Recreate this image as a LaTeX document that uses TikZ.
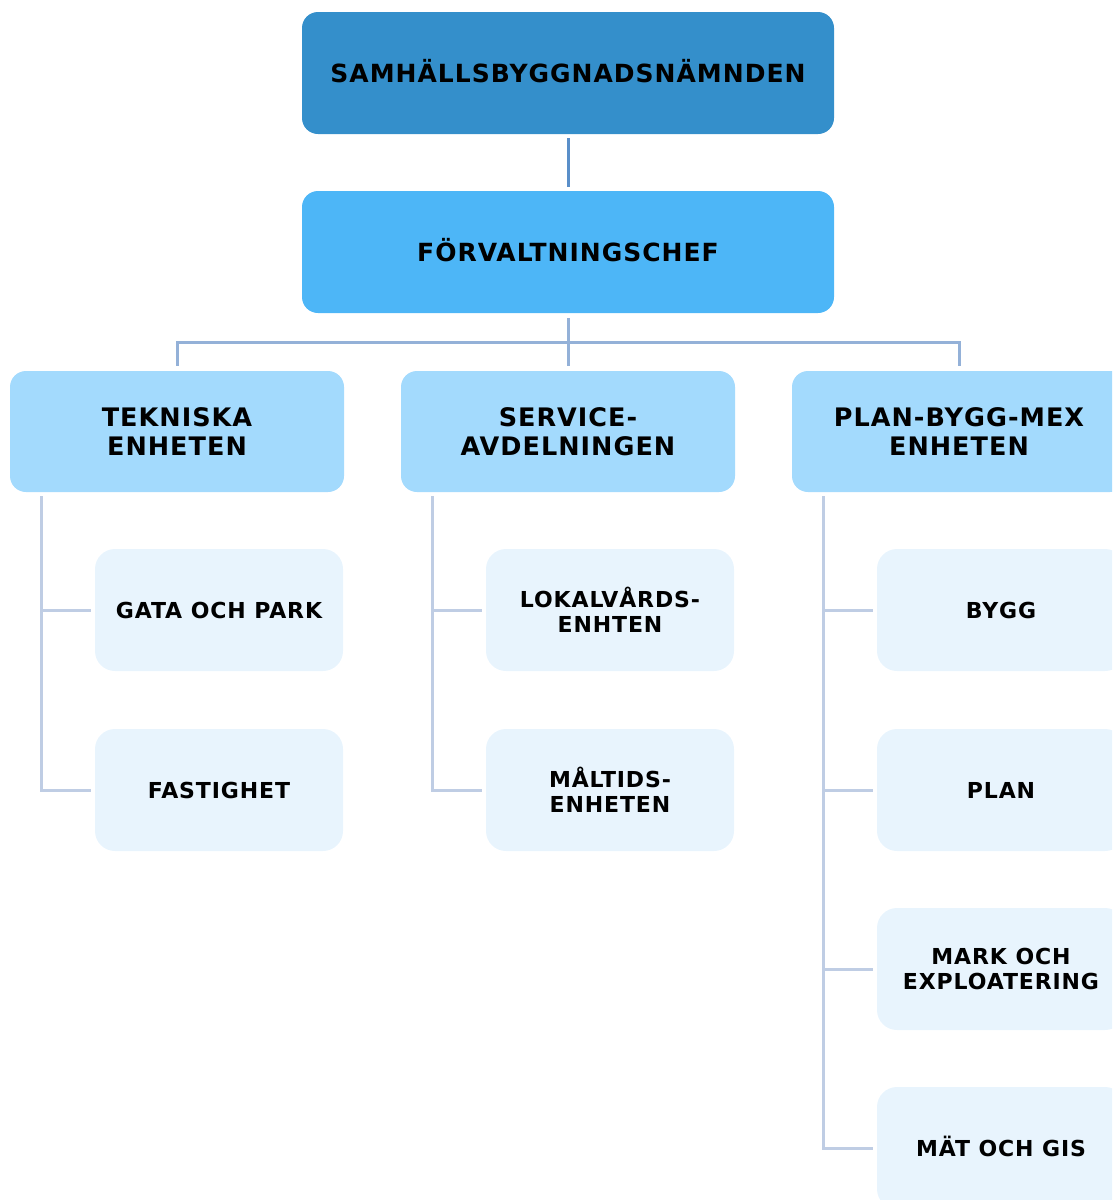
\documentclass[tikz,border=0pt]{standalone}
\usepackage{fontspec}
\setmainfont{DejaVu Sans}
\newfontfamily\boxfont[LetterSpace=4]{DejaVu Sans Bold}
\definecolor{topc}{HTML}{348FCB}
\definecolor{secc}{HTML}{4DB6F7}
\definecolor{midc}{HTML}{A3DAFD}
\definecolor{lowc}{HTML}{E8F4FD}
\definecolor{conA}{HTML}{5A8FC9}
\definecolor{conB}{HTML}{94B1D8}
\definecolor{conC}{HTML}{BFCDE4}
\begin{document}
\begin{tikzpicture}[x=1pt,y=-1pt,
  lvlone/.style={rectangle,rounded corners=16pt,minimum width=532pt,minimum height=122pt,inner sep=0pt,align=center,text height=19pt,text depth=0pt,font=\boxfont\fontsize{25}{29}\selectfont},
  lvltwo/.style={rectangle,rounded corners=16pt,minimum width=334pt,minimum height=121pt,inner sep=0pt,align=center,fill=midc,font=\boxfont\fontsize{25.5}{29}\selectfont},
  lvlthree/.style={rectangle,rounded corners=20pt,minimum width=248pt,minimum height=122pt,inner sep=0pt,align=center,fill=lowc,font=\boxfont\fontsize{22}{25}\selectfont},
  conone/.style={draw=conA,line width=3pt},
  contwo/.style={draw=conB,line width=3pt},
  conthree/.style={draw=conC,line width=3pt}]
\useasboundingbox (0,0) rectangle (1112,1200);
\clip (0,0) rectangle (1112,1200);
\node[lvlone,fill=topc] (top) at (568,73) {SAMHÄLLSBYGGNADSNÄMNDEN};
\node[lvlone,fill=secc] (chef) at (568,252) {FÖRVALTNINGSCHEF};
\node[lvltwo] (tek) at (177,431.5) {TEKNISKA\\ENHETEN};
\node[lvltwo] (ser) at (568,431.5) {SERVICE-\\AVDELNINGEN};
\node[lvltwo] (pbm) at (959,431.5) {PLAN-BYGG-MEX\\ENHETEN};
\node[lvlthree] (gata) at (219,610) {GATA OCH PARK};
\node[lvlthree] (fast) at (219,790) {FASTIGHET};
\node[lvlthree] (lok) at (610,610) {LOKALVÅRDS-\\ENHTEN};
\node[lvlthree] (malt) at (610,790) {MÅLTIDS-\\ENHETEN};
\node[lvlthree] (bygg) at (1001,610) {BYGG};
\node[lvlthree] (plan) at (1001,790) {PLAN};
\node[lvlthree] (mark) at (1001,969) {MARK OCH\\EXPLOATERING};
\node[lvlthree,text height=16pt,text depth=0pt] (mat) at (1001,1148) {MÄT OCH GIS};
\coordinate (bus) at (568,342);
\draw[conone] ([yshift=-4pt]top.south) -- ([yshift=4pt]chef.north);
\draw[contwo] ([yshift=-5pt]chef.south) -- (bus);
\draw[contwo] ([yshift=5pt]tek.north) -- (tek.north |- bus) -- (pbm.north |- bus) -- ([yshift=5pt]pbm.north);
\draw[contwo] (bus) -- ([yshift=5pt]ser.north);
% sub connectors
\draw[conthree] ([xshift=32pt,yshift=-4pt]tek.south west) -- ([xshift=32pt]tek.south west |- fast.west) -- ([xshift=-4pt]fast.west);
\draw[conthree] ([xshift=32pt]tek.south west |- gata.west) -- ([xshift=-4pt]gata.west);
\draw[conthree] ([xshift=32pt,yshift=-4pt]ser.south west) -- ([xshift=32pt]ser.south west |- malt.west) -- ([xshift=-4pt]malt.west);
\draw[conthree] ([xshift=32pt]ser.south west |- lok.west) -- ([xshift=-4pt]lok.west);
\draw[conthree] ([xshift=32pt,yshift=-4pt]pbm.south west) -- ([xshift=32pt]pbm.south west |- mat.west) -- ([xshift=-4pt]mat.west);
\draw[conthree] ([xshift=32pt]pbm.south west |- bygg.west) -- ([xshift=-4pt]bygg.west);
\draw[conthree] ([xshift=32pt]pbm.south west |- plan.west) -- ([xshift=-4pt]plan.west);
\draw[conthree] ([xshift=32pt]pbm.south west |- mark.west) -- ([xshift=-4pt]mark.west);
\end{tikzpicture}
\end{document}
